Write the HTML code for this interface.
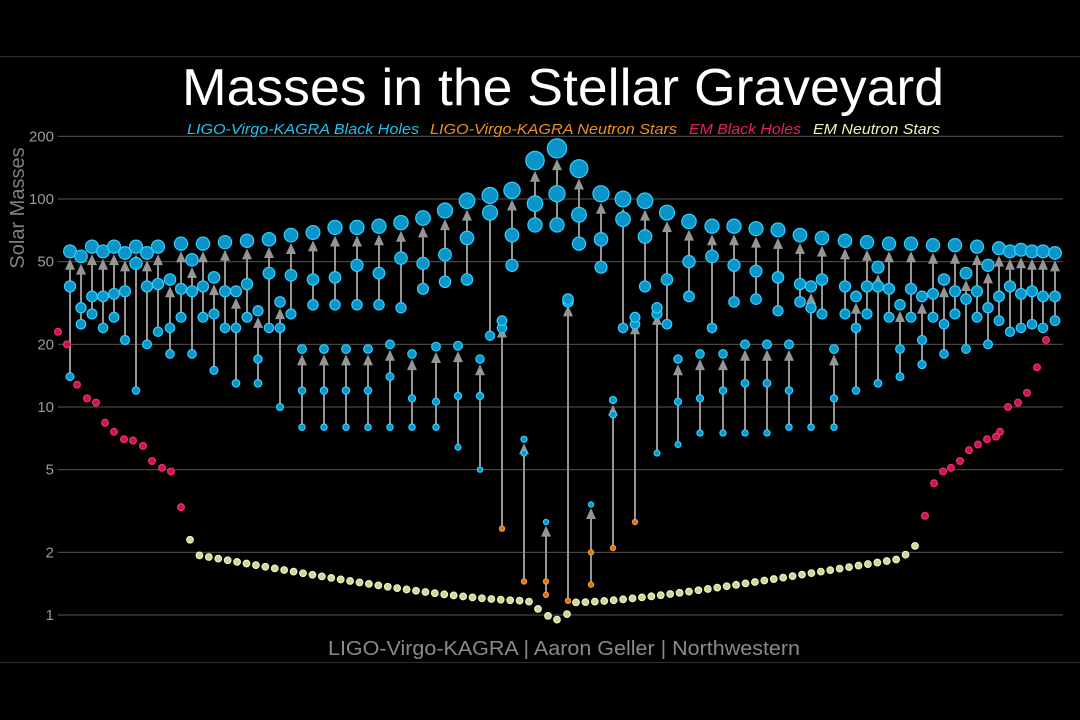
<!DOCTYPE html>
<html><head><meta charset="utf-8"><style>
html,body{margin:0;padding:0;background:#000;width:1080px;height:720px;overflow:hidden}
svg{display:block}
</style></head><body>
<svg id="s" width="1080" height="720" xmlns="http://www.w3.org/2000/svg" font-family="Liberation Sans, sans-serif">
<rect width="1080" height="720" fill="#000"/>
<line x1="0" y1="56.5" x2="1080" y2="56.5" stroke="#2e2e2e"/>
<line x1="0" y1="662.5" x2="1080" y2="662.5" stroke="#2e2e2e"/>
<g id="grid"></g>
<text x="563" y="105" fill="#fff" font-size="52" text-anchor="middle" textLength="762" lengthAdjust="spacingAndGlyphs">Masses in the Stellar Graveyard</text>
<g font-size="15" font-style="italic">
<text x="187" y="134" fill="#1fc3f0" textLength="232" lengthAdjust="spacingAndGlyphs">LIGO-Virgo-KAGRA Black Holes</text>
<text x="430" y="134" fill="#f0901e" textLength="247" lengthAdjust="spacingAndGlyphs">LIGO-Virgo-KAGRA Neutron Stars</text>
<text x="689" y="134" fill="#e8205a" textLength="112" lengthAdjust="spacingAndGlyphs">EM Black Holes</text>
<text x="813" y="134" fill="#f2f5b5" textLength="127" lengthAdjust="spacingAndGlyphs">EM Neutron Stars</text>
</g>
<text transform="translate(24,208) rotate(-90)" fill="#808080" font-size="20" text-anchor="middle">Solar Masses</text>
<text x="564" y="655" fill="#8a8a8a" font-size="20" text-anchor="middle" textLength="472" lengthAdjust="spacingAndGlyphs">LIGO-Virgo-KAGRA | Aaron Geller | Northwestern</text>
<g id="d"></g>
</svg>
<script>
var NS="http://www.w3.org/2000/svg";
function Y(v){return 615-208*Math.log10(v);}
function el(p,t,a){var e=document.createElementNS(NS,t);for(var k in a)e.setAttribute(k,a[k]);p.appendChild(e);return e;}
var g=document.getElementById('grid');
[[200,'200'],[100,'100'],[50,'50'],[20,'20'],[10,'10'],[5,'5'],[2,'2'],[1,'1']].forEach(function(t){
 var y=Y(t[0]);el(g,'line',{x1:58,x2:1063,y1:y,y2:y,stroke:'#454545','stroke-width':1.2});
 var tx=el(g,'text',{x:54,y:y+5,fill:'#9a9a9a','font-size':15,'text-anchor':'end'});tx.textContent=t[1];});
var d=document.getElementById('d');
function R(m){return Math.max(2.6,1.5*Math.pow(m,0.36));}
function dot(x,m,type){var c={bh:['#0b94c8','#2fd0ff'],ns:['#d27515','#f39a32'],em:['#c8174f','#f0306a'],en:['#cdd59a','#eef4bc']}[type];
 var r=type=='en'?3.3:(type=='em'?3.4:R(m));el(d,'circle',{cx:x,cy:Y(m),r:r,fill:c[0],stroke:c[1],'stroke-width':1.2});}
var M=[[70,56,38,14],[81,53,30,25],[92,59,34,28],[103,56,34,24],[114,59,35,27],[125,55,36,21],[136,59,49,12],[147,55,38,20],[158,59,39,23],
[170,41,24,18],[181,61,37,27],[192,51,36,18],[203,61,38,27],[214,42,28,15],[225,62,36,24],[236,36,24,13],[247,63,39,27],[258,29,17,13],[269,64,44,24],[280,32,24,10],[291,67,43,28],
[302,19,12,8],[313,69,41,31],[324,19,12,8],[335,73,42,31],[346,19,12,8],[357,73,48,31],[368,19,12,8],[379,74,44,31],[390,20,14,8],[401,77,52,30],[412,18,11,8],[423,81,49,37],
[436,19.5,10.6,8],[445,88,54,40],[458,19.7,11.3,6.4],[467,98,65,41],[480,17,11.3,5],[490,104,86,22],[502,26,24,2.6,1],[512,110,67,48],[524,7,6,1.45,1],[535,153,95,75],[546,2.8,1.45,1.25,2],[557,175,106,75],[568,33,32,1.17,1],[579,140,84,61],[591,3.4,2.0,1.4,2],[601,106,64,47],[613,10.8,9.2,2.1,1],[623,100,80,24],[635,27,25,2.8,1],[645,98,66,38],[657,30,28,6],[667,86,41,25],
[678,17,10.6,6.6],[689,78,50,34],[700,18,11,7.5],[712,74,53,24],[723,18,12,7.5],[734,74,48,32],[745,20,13,7.5],[756,72,45,33],[767,20,13,7.5],[778,71,42,29],[789,20,12,8],[800,67,39,32],[811,38,30,8],[822,65,41,28],[834,19,11,8],[845,63,38,28],[856,34,24,12],[867,62,38,28],[878,47,38,13],[889,61,37,27],[900,31,19,14],[911,61,37,27],[922,34,21,16],[933,60,35,27],[944,41,25,18],[955,60,36,28],[966,44,33,19],[977,59,36,27],[988,48,30,20],[999,58,34,26],[1010,56,38,23],[1021,57,35,24],[1032,56,36,25],[1043,56,34,24],[1055,55,34,26]];
M.forEach(function(a){var x=a[0],f=a[1],m1=a[2],m2=a[3],ns=a[4]||0;
 var yt=Y(f)+R(f)+1,yb=Y(m2);
 el(d,'line',{x1:x,x2:x,y1:yb,y2:yt+8,stroke:'#959595','stroke-width':2});
 el(d,'polygon',{points:(x-5)+','+(yt+11)+' '+(x+5)+','+(yt+11)+' '+x+','+yt,fill:'#959595'});
 dot(x,m2,ns>=1?'ns':'bh');dot(x,m1,ns>=2?'ns':'bh');dot(x,f,'bh');});
[[58,23],[67,20],[77,12.8],[87,11],[96,10.5],[105,8.4],[114,7.6],[124,7],[133,6.9],[143,6.5],[152,5.5],[162,5.1],[171,4.9],[181,3.3],
[925,3],[934,4.3],[943,4.9],[951,5.1],[960,5.5],[969,6.2],[978,6.6],[987,7],[996,7.2],[1000,7.6],[1008,10],[1018,10.5],[1027,11.7],[1037,15.5],[1046,21]].forEach(function(p){dot(p[0],p[1],'em');});
var n=37;for(var i=0;i<n;i++){var t=i/(n-1);var x=190+t*339;var v=i==0?2.3:1.17+0.8*Math.pow(1-t,1.6);if(i==n-1)v=1.16;dot(x,v,'en');
 var xr=915-t*339;var vr=i==0?2.15:(i==1?1.95:1.15+0.76*Math.pow(1-t,1.5));dot(xr,vr,'en');}
[[538,1.07],[548,0.99],[557,0.95],[567,1.01]].forEach(function(p){dot(p[0],p[1],'en');});
</script>
</body></html>
